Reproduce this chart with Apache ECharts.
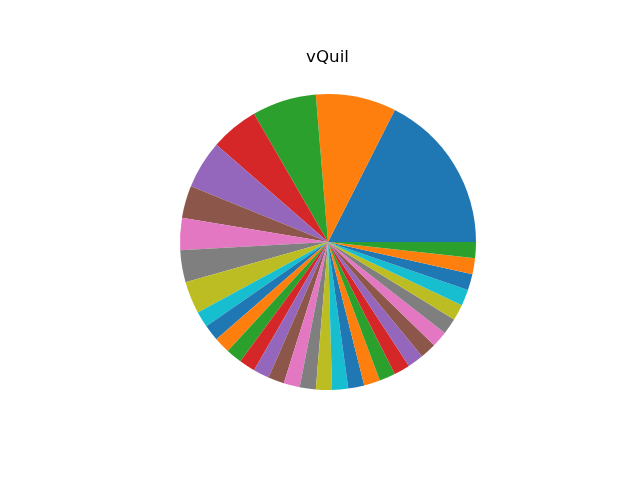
<!DOCTYPE html>
<html>
<head>
<meta charset="utf-8">
<script src="https://cdn.jsdelivr.net/npm/echarts@6/dist/echarts.min.js"></script>
<style>html,body{margin:0;padding:0;background:#fff}#c{width:640px;height:480px}</style>
</head>
<body>
<div id="c"></div>
<script>
const titleText = "vQuil";
const sliceValues = [10, 5, 4, 3, 3, 2, 2, 2, 2,
  1, 1, 1, 1, 1, 1, 1, 1, 1, 1, 1, 1,
  1, 1, 1, 1, 1, 1, 1, 1, 1, 1, 1, 1];
const palette = ['#1f77b4', '#ff7f0e', '#2ca02c', '#d62728', '#9467bd',
  '#8c564b', '#e377c2', '#7f7f7f', '#bcbd22', '#17becf'];

const chart = echarts.init(document.getElementById('c'), null, {renderer: 'canvas'});
chart.setOption({
  animation: false,
  backgroundColor: '#ffffff',
  graphic: [{
    type: 'text',
    x: 327.5,
    y: 49.5,
    style: {
      text: titleText,
      align: 'center',
      verticalAlign: 'alphabetic',
      fontFamily: 'DejaVu Sans',
      fontSize: 16.7,
      fill: '#000'
    }
  }],
  series: [{
    type: 'pie',
    center: [328, 242],
    radius: [0, 148],
    startAngle: 0,
    clockwise: false,
    minAngle: 0,
    avoidLabelOverlap: false,
    label: {show: false},
    labelLine: {show: false},
    emphasis: {disabled: true},
    itemStyle: {borderWidth: 0},
    data: sliceValues.map((v, i) => ({value: v, name: 'S' + i, itemStyle: {color: palette[i % 10]}}))
  }]
});
</script>
</body>
</html>
